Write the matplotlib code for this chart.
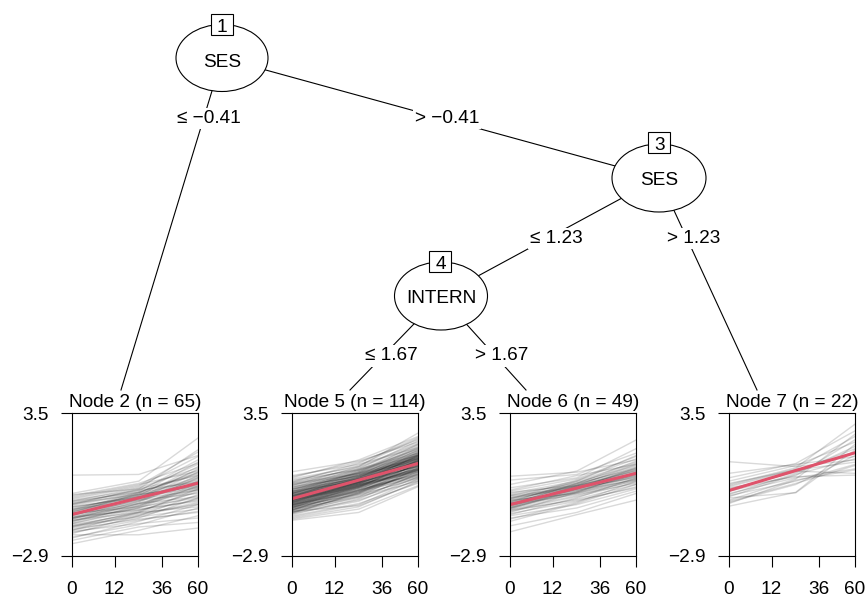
import numpy as np
import matplotlib.pyplot as plt
from matplotlib.patches import Ellipse, Rectangle

plt.rcParams['font.family'] = ['Liberation Sans', 'DejaVu Sans']
FS = 13.7

# time axis of the terminal panels
time_labels = ["0", "12", "36", "60"]
tick_pos = [0.0, 0.338, 0.712, 1.0]
time_pos = [0.0, 0.53, 1.0]
y_range = [-2.9, 3.5]

# trajectories (start, middle, end) per terminal node
node2_traj = [
    (0.72, 0.75, 1.60), (-2.35, -1.75, -1.10), (-1.95, -1.95, -1.65), (-0.10, 0.45, 2.38),
    (-0.35, 0.20, 1.55), (-0.55, 0.05, 1.20), (-0.80, -0.15, 0.95), (-1.05, -0.40, 0.55),
    (-1.25, -0.55, 0.20), (-1.45, -0.85, -0.20), (-1.65, -1.10, -0.55), (-1.85, -1.30, -0.90),
    (-0.60, -0.05, 0.80), (-0.95, -0.20, 0.65), (-1.15, -0.60, 0.10), (-1.35, -0.70, 0.35),
    (-0.45, 0.15, 1.05), (-0.70, -0.30, 0.30), (-1.00, -0.45, 0.40), (-1.20, -0.35, 0.85),
    (-1.55, -0.95, -0.35), (-1.75, -1.20, -0.30), (-2.05, -1.50, -0.75), (-0.25, 0.30, 0.90),
    (-0.85, -0.25, 0.15), (-1.10, -0.50, 0.60), (-1.30, -0.75, -0.05), (-0.65, -0.10, 0.50),
    (-0.90, -0.35, 0.05), (-1.40, -0.65, 0.45), (-1.60, -0.90, 0.00), (-2.20, -1.60, -1.40),
    (-0.15, 0.10, 0.70), (-0.50, 0.00, 1.40), (-0.75, -0.20, 1.10), (-1.00, -0.30, 1.00),
    (-1.20, -0.80, -0.45), (-1.50, -1.00, -0.60), (-1.70, -1.25, -0.95), (-1.90, -1.10, -0.15),
    (-0.40, 0.05, 0.40), (-0.80, -0.40, -0.10), (-1.05, -0.55, -0.25), (-1.25, -0.45, 0.70),
    (-0.55, -0.15, 0.25), (-0.95, -0.10, 1.30), (-1.15, -0.85, -0.40), (-1.35, -0.55, 0.15),
    (-0.30, 0.25, 1.75), (-0.60, 0.10, 1.85), (-0.85, -0.05, 0.75), (-1.10, -0.25, 0.45),
    (-1.30, -0.95, -0.70), (-1.60, -1.05, -0.50), (-1.80, -1.45, -1.20), (-2.10, -1.35, -0.60),
    (-0.70, -0.25, 0.60), (-0.90, -0.15, 0.20), (-1.20, -0.65, 0.05), (-1.45, -0.75, 0.25),
    (-1.00, -0.70, -0.30), (-0.20, 0.35, 1.25), (-0.45, -0.05, 0.85), (-1.55, -1.15, -0.80),
    (-1.75, -0.95, 0.10),
]
node5_traj = [
    (0.87, 1.35, 2.20), (-1.30, -0.95, 0.20), (-1.20, -0.70, 0.45), (0.70, 1.20, 1.95),
    (0.55, 1.10, 2.60), (0.40, 1.00, 1.70), (0.30, 0.95, 2.05), (0.20, 0.80, 1.55),
    (0.10, 0.85, 1.80), (0.00, 0.70, 1.40), (-0.05, 0.60, 1.65), (-0.10, 0.75, 1.50),
    (-0.15, 0.55, 1.30), (-0.20, 0.65, 1.45), (-0.25, 0.50, 1.20), (-0.30, 0.45, 1.35),
    (-0.35, 0.40, 1.10), (-0.40, 0.35, 1.25), (-0.45, 0.30, 1.00), (-0.50, 0.25, 1.15),
    (-0.55, 0.20, 0.90), (-0.60, 0.15, 1.05), (-0.65, 0.05, 0.80), (-0.70, 0.00, 0.95),
    (-0.75, -0.10, 0.70), (-0.80, -0.05, 0.85), (-0.85, -0.20, 0.60), (-0.90, -0.30, 0.75),
    (-0.95, -0.40, 0.50), (-1.00, -0.45, 0.65), (-1.10, -0.55, 0.35), (0.60, 1.40, 2.45),
    (0.45, 1.15, 2.35), (0.35, 1.05, 2.10), (0.25, 0.90, 1.90), (0.15, 1.00, 2.25),
    (0.05, 0.80, 2.00), (-0.05, 0.90, 1.85), (-0.10, 0.65, 1.75), (-0.20, 0.70, 1.95),
    (-0.25, 0.60, 1.60), (-0.30, 0.55, 1.70), (-0.35, 0.50, 1.55), (-0.40, 0.45, 1.45),
    (-0.45, 0.40, 1.60), (-0.50, 0.35, 1.30), (-0.55, 0.30, 1.40), (-0.60, 0.25, 1.20),
    (-0.65, 0.20, 1.35), (-0.70, 0.10, 1.10), (-0.75, 0.05, 1.25), (-0.80, 0.00, 1.00),
    (-0.85, -0.10, 1.15), (-0.90, -0.15, 0.90), (-0.95, -0.25, 1.05), (-1.05, -0.35, 0.80),
    (-1.15, -0.60, 0.55), (0.50, 0.95, 1.60), (0.35, 0.80, 1.45), (0.20, 0.65, 1.30),
    (0.10, 0.55, 1.20), (0.00, 0.45, 1.10), (-0.10, 0.40, 1.00), (-0.20, 0.30, 0.95),
    (-0.30, 0.25, 0.85), (-0.40, 0.15, 0.75), (-0.50, 0.10, 0.70), (-0.60, 0.00, 0.60),
    (-0.70, -0.15, 0.55), (-0.80, -0.25, 0.45), (0.65, 1.30, 2.30), (0.40, 1.25, 2.40),
    (0.25, 1.10, 2.15), (0.05, 0.95, 1.90), (-0.10, 0.85, 2.10), (-0.25, 0.75, 1.80),
    (-0.40, 0.60, 1.85), (-0.55, 0.45, 1.65), (-0.70, 0.30, 1.50), (-0.85, 0.15, 1.40),
    (-1.00, -0.05, 1.25), (-0.15, 0.35, 1.15), (-0.35, 0.20, 1.05), (-0.05, 0.50, 1.35),
    (0.15, 0.70, 1.50), (-0.45, 0.55, 1.50), (-0.65, 0.35, 1.60), (-0.20, 0.45, 1.25),
    (-0.40, 0.25, 0.95), (-0.60, 0.40, 1.45), (-0.30, 0.65, 1.55), (0.00, 0.60, 1.25),
    (-0.50, 0.50, 1.75), (-0.75, 0.20, 1.00), (-0.15, 0.80, 1.70), (0.30, 0.75, 1.35),
    (-0.35, 0.30, 0.90), (-0.55, 0.05, 0.65), (-0.25, 0.40, 1.40), (-0.45, 0.20, 1.20),
    (-0.10, 0.55, 1.45), (-0.65, 0.15, 0.95), (-0.85, 0.05, 0.75), (-0.90, -0.65, 0.40),
    (-1.25, -0.80, 0.25), (0.10, 0.70, 1.65), (-0.20, 0.55, 1.10), (-0.50, 0.40, 1.55),
    (-0.30, 0.35, 1.15), (-0.60, -0.05, 0.85), (-0.40, 0.50, 1.30), (-0.75, 0.25, 1.35),
    (0.00, 0.85, 1.60), (-0.95, -0.10, 0.95),
]
node6_traj = [
    (0.67, 0.85, 1.40), (0.50, 0.75, 1.70), (-1.82, -1.05, -0.40), (-1.55, -0.95, -0.10),
    (-1.35, -0.55, 0.30), (0.30, 0.90, 2.29), (0.15, 0.60, 1.90), (0.00, 0.55, 1.55),
    (-0.10, 0.45, 1.30), (-0.20, 0.40, 1.15), (-0.30, 0.30, 1.05), (-0.40, 0.25, 0.95),
    (-0.50, 0.20, 0.90), (-0.55, 0.10, 0.85), (-0.60, 0.05, 0.75), (-0.65, 0.00, 0.70),
    (-0.70, -0.05, 0.65), (-0.75, -0.10, 0.55), (-0.80, -0.20, 0.50), (-0.85, -0.25, 0.40),
    (-0.90, -0.35, 0.30), (-1.00, -0.45, 0.20), (-1.10, -0.60, 0.10), (-1.20, -0.75, 0.00),
    (-0.35, 0.50, 1.45), (-0.45, 0.35, 1.25), (-0.55, 0.30, 1.10), (-0.65, 0.20, 1.00),
    (-0.75, 0.15, 0.95), (-0.25, 0.15, 0.60), (-0.45, 0.05, 0.50), (-0.60, -0.15, 0.35),
    (-0.05, 0.25, 0.80), (-0.30, 0.10, 0.65), (-0.70, 0.25, 1.20), (-0.95, -0.05, 0.85),
    (-0.50, 0.45, 1.60), (-0.80, 0.10, 1.05), (-0.40, -0.10, 0.45), (-0.15, 0.35, 1.00),
    (-0.60, 0.35, 1.35), (-1.05, -0.30, 0.60), (-0.85, -0.40, 0.15), (-0.20, 0.20, 0.70),
    (-0.55, -0.05, 0.55), (-0.35, 0.25, 0.90), (-0.75, 0.00, 0.75), (-1.25, -0.50, 0.45),
    (0.05, 0.70, 1.20),
]
node7_traj = [
    (1.32, 1.10, 1.40), (-0.67, -0.05, 2.10), (-0.50, 0.30, 1.60), (-0.40, 0.55, 2.55),
    (-0.30, -0.07, 1.85), (-0.20, 0.45, 1.20), (-0.10, 0.60, 1.00), (0.00, 0.70, 2.30),
    (0.10, 0.85, 1.90), (0.20, 0.95, 1.75), (0.30, 1.05, 3.00), (0.45, 1.15, 2.20),
    (0.60, 1.24, 2.70), (-0.55, 0.50, 0.95), (-0.25, 0.75, 1.45), (0.05, 0.90, 0.80),
    (0.15, 0.65, 0.72), (-0.15, 0.80, 2.00), (0.35, 0.95, 1.30), (-0.45, 0.35, 1.15),
    (0.25, 1.00, 2.45), (0.80, 1.20, 1.55),
]

# fitted line per node (value at time 0, value at time 60)
node2_fit = [-1.04, 0.36]
node5_fit = [-0.34, 1.24]
node6_fit = [-0.60, 0.80]
node7_fit = [0.03, 1.72]

fig = plt.figure(figsize=(8.66, 6.01), dpi=100)

# tree drawn in pixel coordinates
tree = fig.add_axes([0, 0, 1, 1])
tree.set_xlim(0, 866)
tree.set_ylim(601, 0)
tree.axis('off')

edges = [
    ((222, 58), (121, 390)),
    ((222, 58), (659, 178)),
    ((659, 178), (441, 296)),
    ((659, 178), (757, 390)),
    ((441, 296), (350, 390)),
    ((441, 296), (526, 390)),
]
for (x0, y0), (x1, y1) in edges:
    tree.plot([x0, x1], [y0, y1], color='black', lw=0.8, zorder=1)

edge_labels = [
    (209, 123.3, "\u2264 \u22120.41"),
    (447, 123.3, "> \u22120.41"),
    (556.5, 243.3, "\u2264 1.23"),
    (694, 243.3, "> 1.23"),
    (391, 360.5, "\u2264 1.67"),
    (502, 360.5, "> 1.67"),
]
for x, y, s in edge_labels:
    tree.text(x, y, s, ha='center', va='baseline', fontsize=FS, zorder=4,
              bbox=dict(facecolor='white', edgecolor='none', pad=1.5))

# inner nodes: ellipse, variable name, id box
inner = [
    (1, "SES", 222, 58, 92, 67, 66.7, 221.5, 24),
    (3, "SES", 659, 178, 94, 68, 185, 659.3, 142.5),
    (4, "INTERN", 441, 296, 93, 68, 303.3, 440.4, 261.3),
]
for nid, var, cx, cy, w, h, base, bx, by in inner:
    tree.add_patch(Ellipse((cx, cy), w, h, facecolor='white', edgecolor='black',
                           lw=0.8, zorder=2))
    tree.text(cx, base, var, ha='center', va='baseline', fontsize=FS, zorder=3)
    tree.add_patch(Rectangle((bx - 11, by - 10.5), 22, 21, facecolor='white',
                             edgecolor='black', lw=0.8, zorder=3))
    tree.text(bx, by + 7.5, str(nid), ha='center', va='baseline', fontsize=FS, zorder=4)

# terminal panels
panels = [
    (2, node2_traj, node2_fit, 72),
    (5, node5_traj, node5_fit, 292),
    (6, node6_traj, node6_fit, 510),
    (7, node7_traj, node7_fit, 729),
]
top, bottom, width = 413, 556, 126
for nid, traj, fit, left in panels:
    ax = fig.add_axes([left / 866, 1 - bottom / 601, width / 866, (bottom - top) / 601])
    ax.plot(time_pos, np.array(traj).T, color='black', alpha=0.15, lw=1.0)
    ax.plot([0, 1], fit, color='#DF536B', lw=2.2)
    ax.set_xlim(0, 1)
    ax.set_ylim(y_range)
    ax.set_xticks(tick_pos, time_labels)
    ax.set_yticks(y_range, ["\u22122.9", "3.5"])
    ax.tick_params(length=8, width=0.8, direction='out', labelsize=FS)
    ax.tick_params(axis='x', pad=10)
    ax.tick_params(axis='y', pad=8.5)
    for sp in ax.spines.values():
        sp.set_linewidth(0.8)
    tree.text(left + width / 2, 406.7, "Node %d (n = %d)" % (nid, len(traj)),
              ha='center', va='baseline', fontsize=FS)

fig.savefig('out.png', dpi=100)
